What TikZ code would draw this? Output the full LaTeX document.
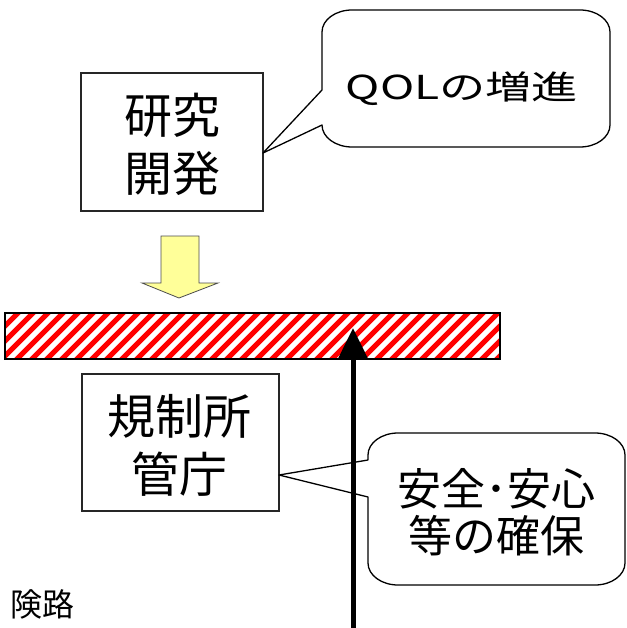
\documentclass[tikz,border=0pt]{standalone}
\usepackage{fontspec}
\setmainfont{Noto Sans CJK JP}
\usetikzlibrary{arrows.meta}
\definecolor{lightyel}{HTML}{FFFF99}
\tikzset{
  boxnode/.style={draw=black!85, line width=1.5pt, fill=white, align=center, inner sep=0pt},
  bubble/.style={draw=black, line width=1.3pt, fill=white, line join=round},
  bigtext/.style={font=\fontsize{48}{58}\selectfont, align=center},
  cr/.style={x radius=30, y radius=22},
}
\begin{document}
\begin{tikzpicture}[x=1pt,y=-1pt]
\useasboundingbox (0,0) rectangle (626,628);
% boxes
\node[boxnode, minimum width=182pt, minimum height=138pt] (rd) at (172,142) {};
\node[bigtext] (rdtext) at (172,144) {研究\\開発};
\node[boxnode, minimum width=197pt, minimum height=137pt] (reg) at (180.5,442.5) {};
\node[bigtext] (regtext) at (179,445) {規制所\\管庁};
% bubble 1
\coordinate (tip1) at (263,153);
\draw[bubble] (tip1) -- (322,90) -- (322,32) arc[start angle=180,end angle=270,cr]
  -- (580,10) arc[start angle=270,end angle=360,cr]
  -- (610,125) arc[start angle=0,end angle=90,cr]
  -- (352,147) arc[start angle=90,end angle=180,cr]
  -- (322,125) -- cycle;
\node[font=\fontsize{33}{36}\selectfont, xscale=1.4] (qol) at (462,89) {QOLの増進};
% bubble 2
\coordinate (tip2) at (279,475);
\draw[bubble] (tip2) -- (368,460) -- (368,455) arc[start angle=180,end angle=270,cr]
  -- (595,433) arc[start angle=270,end angle=360,cr]
  -- (625,563) arc[start angle=0,end angle=90,cr]
  -- (398,585) arc[start angle=90,end angle=180,cr]
  -- (368,563) -- (368,497) -- cycle;
\node[font=\fontsize{44}{47}\selectfont, align=center] (safe) at (496,512) {安全･安心\\等の確保};
% yellow block arrow
\draw[draw=black!70, line width=0.8pt, fill=lightyel, line join=miter]
  (161,236) -- (199,236) -- (199,283) -- (218,283) -- (179,298) -- (142,283) -- (161,283) -- cycle;
% hatched bar
\begin{scope}
  \clip (5,313) rectangle (500,359);
  \fill[white] (5,313) rectangle (500,359);
  \foreach \i in {-60,-45,...,520} {
    \draw[red, line width=5pt] (\i,361) -- (\i+50,311);
  }
\end{scope}
\node[draw=black, line width=1.5pt, minimum width=495pt, minimum height=46pt, inner sep=0pt] (bar) at (252.5,336) {};
% black arrow
\coordinate (abot) at (353,628);
\coordinate (atop) at (353,328);
\draw[line width=5pt, -{Triangle[length=30pt,width=28pt]}] (abot) -- (atop);
% label
\node[font=\fontsize{32}{36}\selectfont] (kenro) at (42,604) {険路};
\end{tikzpicture}
\end{document}
